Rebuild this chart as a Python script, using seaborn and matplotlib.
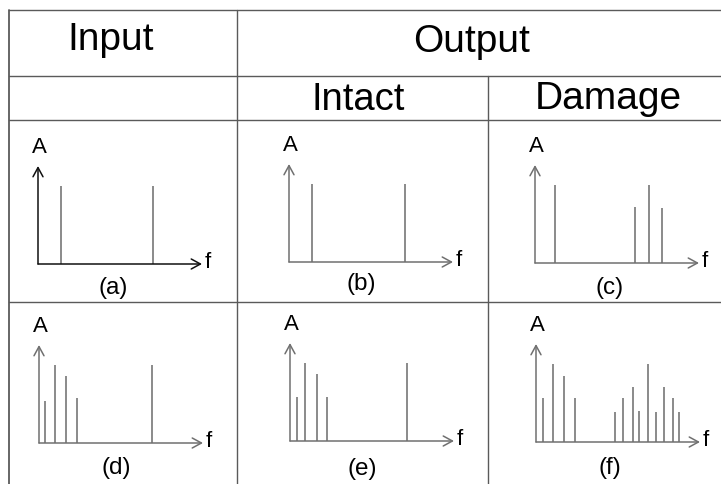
import matplotlib
matplotlib.use("Agg")
import matplotlib.pyplot as plt
import seaborn as sns
import pandas as pd

# ---------------- data ----------------
header_top = ["Input", "Output"]
header_sub = ["Intact", "Damage"]
panel_labels = ["(a)", "(b)", "(c)", "(d)", "(e)", "(f)"]
axis_y_label = "A"
axis_x_label = "f"

freq_a = [1.4, 7.0]
amp_a = [1.0, 1.0]
freq_b = [1.4, 7.07]
amp_b = [1.0, 1.0]
freq_c = [1.22, 6.1, 6.95, 7.74]
amp_c = [1.0, 0.71, 1.0, 0.70]
freq_d = [0.37, 0.98, 1.65, 2.32, 6.89]
amp_d = [0.54, 1.0, 0.85, 0.57, 1.0]
freq_e = [0.43, 0.91, 1.65, 2.26, 7.13]
amp_e = [0.56, 1.0, 0.86, 0.56, 1.0]
freq_f = [0.43, 1.04, 1.71, 2.38, 4.82, 5.3, 5.91, 6.28, 6.83, 7.32, 7.8, 8.35, 8.72]
amp_f = [0.56, 1.0, 0.84, 0.56, 0.38, 0.56, 0.70, 0.39, 1.0, 0.38, 0.70, 0.56, 0.38]

freqs = [freq_a, freq_b, freq_c, freq_d, freq_e, freq_f]
amps = [amp_a, amp_b, amp_c, amp_d, amp_e, amp_f]

df = pd.concat(
    [pd.DataFrame({"panel": lab, "f": fr, "A": am})
     for lab, fr, am in zip(panel_labels, freqs, amps)],
    ignore_index=True,
)

# ---------------- layout (pixels) ----------------
W, H = 721, 485
sns.set_theme(style="white")
plt.rcParams["font.family"] = ["Liberation Sans", "DejaVu Sans"]

fig = plt.figure(figsize=(W / 100, H / 100), dpi=100)
fig.patch.set_facecolor("white")

# table overlay
tab = fig.add_axes([0, 0, 1, 1])
tab.set_xlim(0, W)
tab.set_ylim(H, 0)
tab.axis("off")
lc = "#5a5a5a"
lw = 1.0
tab.plot([9, 9], [11, H], color=lc, lw=1.3)
tab.plot([9, W], [11, 11], color=lc, lw=lw)
tab.plot([9, W], [77, 77], color=lc, lw=lw)
tab.plot([9, W], [121, 121], color=lc, lw=lw)
tab.plot([9, W], [303, 303], color=lc, lw=lw)
tab.plot([237, 237], [11, H], color=lc, lw=lw)
tab.plot([488, 488], [77, H], color=lc, lw=lw)

tab.text(111, 40, header_top[0], fontsize=28, ha="center", va="center", color="black")
tab.text(472, 42, header_top[1], fontsize=28, ha="center", va="center", color="black")
tab.text(358, 100, header_sub[0], fontsize=27.5, ha="center", va="center", color="black")
tab.text(608, 99, header_sub[1], fontsize=28, ha="center", va="center", color="black")

# panel positions: origin x, base y, label centre x, label centre y
origins = [(38, 265), (289, 263), (535, 264), (39, 444), (290, 442), (536, 443)]
label_pos = [(113, 288), (361, 284), (610, 288), (116, 468), (362, 469), (610, 468)]
axis_colors = ["#111111", "#707070", "#707070", "#707070", "#707070", "#707070"]
spike_color = "#6b6b6b"
AW, AH = 164, 98
XMAX, YMAX = 10.0, 1.25

for lab, (ox, oy), (lx, ly), acol in zip(panel_labels, origins, label_pos, axis_colors):
    ax = fig.add_axes([ox / W, 1 - oy / H, AW / W, AH / H])
    ax.set_xlim(0, XMAX)
    ax.set_ylim(0, YMAX)
    ax.axis("off")
    sub = df[df["panel"] == lab]
    ax.vlines(sub["f"], 0, sub["A"], color=spike_color, lw=1.1)
    arrow = dict(arrowstyle="->,head_length=0.55,head_width=0.3",
                 color=acol, lw=1.1, shrinkA=0, shrinkB=0)
    ax.annotate("", xy=(XMAX, 0), xytext=(0, 0), arrowprops=arrow, annotation_clip=False)
    ax.annotate("", xy=(0, YMAX), xytext=(0, 0), arrowprops=arrow, annotation_clip=False)
    tab.text(ox + 1, oy - 117, axis_y_label, fontsize=16, ha="center", va="center", color="black")
    tab.text(ox + AW + 3, oy - 2, axis_x_label, fontsize=16, ha="left", va="center", color="black")
    tab.text(lx, ly, lab, fontsize=17.5, ha="center", va="center", color="black")

fig.savefig("out.png", dpi=100, facecolor="white")
